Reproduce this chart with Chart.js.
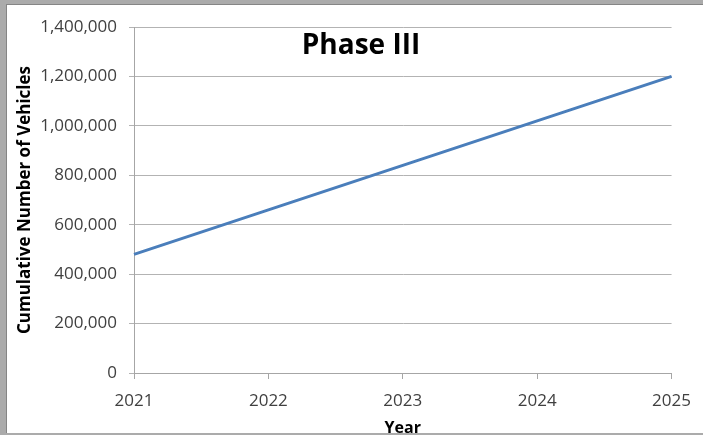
<!DOCTYPE html>
<html>
<head>
<meta charset="utf-8">
<script src="https://cdn.jsdelivr.net/npm/chart.js@4/dist/chart.umd.min.js"></script>
<style>
  html, body { margin: 0; padding: 0; background: #fff; }
  #wrap { position: relative; width: 703px; height: 435px; }
</style>
</head>
<body>
<div id="wrap"><canvas id="chart" width="703" height="435"></canvas></div>
<script>
// Phase III rollout: cumulative vehicles per year
const years = ['2021', '2022', '2023', '2024', '2025'];
const cumulativeVehicles = [480000, 660000, 840000, 1020000, 1200000];
const yTickValues = [0, 200000, 400000, 600000, 800000, 1000000, 1200000, 1400000];

const chartTitle = 'Phase III';
const xAxisTitle = 'Year';
const yAxisTitle = 'Cumulative Number of Vehicles';

const FONT = "'Open Sans', 'Liberation Sans', Arial, sans-serif";

// grey window-style frame behind the chart
const framePlugin = {
  id: 'frame',
  beforeDraw(chart) {
    const { ctx, width, height } = chart;
    ctx.save();
    ctx.fillStyle = '#ababab';
    ctx.fillRect(0, 0, width, height);
    ctx.fillStyle = '#858585';
    ctx.fillRect(6, 4, width - 6, height - 6);
    ctx.fillStyle = '#ffffff';
    ctx.fillRect(7, 5, width - 7, height - 7);
    ctx.restore();
  }
};

// heading placed inside the plot area, as in the worksheet chart
const headingPlugin = {
  id: 'heading',
  afterDraw(chart) {
    const { ctx } = chart;
    ctx.save();
    ctx.font = "bold 28px " + FONT;
    ctx.fillStyle = '#000000';
    ctx.textAlign = 'center';
    ctx.textBaseline = 'alphabetic';
    ctx.fillText(chartTitle, 361, 54);
    ctx.restore();
  }
};

new Chart(document.getElementById('chart'), {
  type: 'line',
  data: {
    labels: years,
    datasets: [{
      label: 'Cumulative vehicles',
      data: cumulativeVehicles,
      borderColor: '#4a7ebb',
      backgroundColor: '#4a7ebb',
      borderWidth: 3,
      pointRadius: 0,
      tension: 0,
      fill: false
    }]
  },
  options: {
    responsive: false,
    animation: false,
    devicePixelRatio: 1,
    layout: { padding: { left: 8, top: 27, right: 30, bottom: 0 } },
    plugins: {
      legend: { display: false },
      tooltip: { enabled: false },
      title: { display: false }
    },
    scales: {
      x: {
        type: 'category',
        offset: false,
        afterFit(scale) { scale.height = 62; },
        grid: {
          drawOnChartArea: false,
          drawTicks: true,
          tickLength: 6,
          color: '#a6a6a6'
        },
        border: { display: true, color: '#a6a6a6', width: 1 },
        ticks: {
          color: '#404040',
          font: { family: FONT, size: 17 },
          padding: 12,
          maxRotation: 0,
          autoSkip: false
        },
        title: {
          display: true,
          text: xAxisTitle,
          color: '#000000',
          font: { family: FONT, size: 16, weight: 'bold' },
          padding: { top: -3, bottom: -3 }
        }
      },
      y: {
        min: 0,
        max: 1400000,
        afterFit(scale) { scale.width = 126; },
        afterBuildTicks(scale) { scale.ticks = yTickValues.map(v => ({ value: v })); },
        grid: {
          color: '#b3b3b3',
          tickLength: 5,
          drawTicks: true
        },
        border: { display: true, color: '#a6a6a6', width: 1 },
        ticks: {
          color: '#404040',
          font: { family: FONT, size: 17 },
          padding: 12,
          callback: (v) => Number(v).toLocaleString('en-US')
        },
        title: {
          display: true,
          text: yAxisTitle,
          color: '#000000',
          font: { family: FONT, size: 17, weight: 'bold' },
          padding: { top: 7, bottom: 0 }
        }
      }
    }
  },
  plugins: [framePlugin, headingPlugin]
});
</script>
</body>
</html>
